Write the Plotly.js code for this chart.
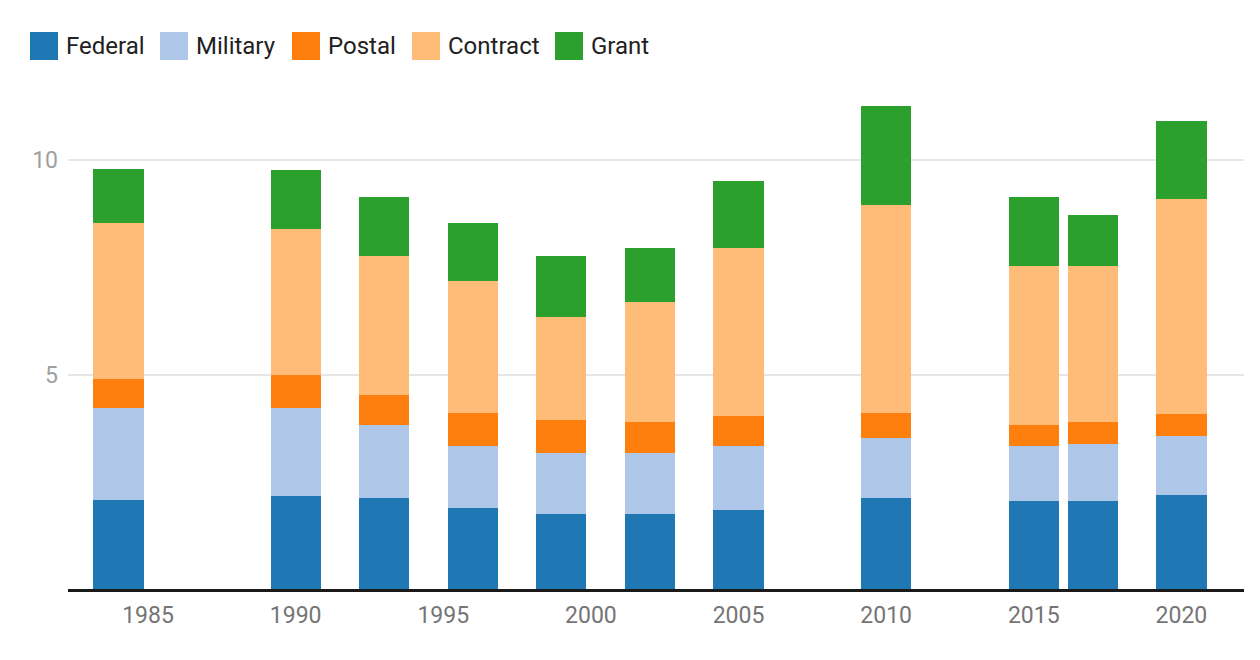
<!DOCTYPE html>
<html>
<head>
<meta charset="utf-8">
<script src="https://cdn.plot.ly/plotly-3.0.1.min.js"></script>
<style>
  html, body { margin: 0; padding: 0; background: #fff; }
  #chart { width: 1260px; height: 660px; }
</style>
</head>
<body>
<div id="chart"></div>
<script>
// ---- data ----
const years    = [1984, 1990, 1993, 1996, 1999, 2002, 2005, 2010, 2015, 2017, 2020];
const federal  = [2.07, 2.16, 2.13, 1.88, 1.76, 1.74, 1.83, 2.11, 2.04, 2.04, 2.20];
const military = [2.14, 2.05, 1.70, 1.46, 1.40, 1.42, 1.51, 1.40, 1.30, 1.35, 1.36];
const postal   = [0.68, 0.77, 0.70, 0.77, 0.79, 0.74, 0.70, 0.59, 0.49, 0.51, 0.51];
const contract = [3.65, 3.42, 3.24, 3.06, 2.40, 2.80, 3.90, 4.84, 3.71, 3.62, 5.03];
const grant    = [1.24, 1.36, 1.36, 1.35, 1.42, 1.24, 1.56, 2.33, 1.59, 1.19, 1.82];
const seriesNames = ['Federal', 'Military', 'Postal', 'Contract', 'Grant'];
const seriesValues = [federal, military, postal, contract, grant];
const xTickVals = [1985, 1990, 1995, 2000, 2005, 2010, 2015, 2020];
const yTickVals = [5, 10];

// ---- styles ----
const colors = ['#1f77b4', '#aec7e8', '#ff7f0e', '#ffbb78', '#2ca02c'];
const W = 1260, H = 660;
const M = { l: 68, r: 16, t: 88, b: 71 };
const PW = W - M.l - M.r, PH = H - M.t - M.b;
const px2x = p => (p - M.l) / PW;
const py2y = p => (H - M.b - p) / PH;

const traces = seriesNames.map((name, i) => ({
  type: 'bar',
  name: name,
  x: years,
  y: seriesValues[i],
  width: 1.7,
  marker: { color: colors[i], line: { width: 0 } },
  hoverinfo: 'x+y+name'
}));

// custom legend (large swatches)
const legendSwatchX = [30, 160, 292, 412, 555];
const swatch = 28, legendY = 46;
const shapes = [];
const annotations = [];
seriesNames.forEach((name, i) => {
  const x0 = legendSwatchX[i];
  shapes.push({
    type: 'rect', xref: 'paper', yref: 'paper',
    x0: px2x(x0), x1: px2x(x0 + swatch),
    y0: py2y(legendY + swatch / 2), y1: py2y(legendY - swatch / 2),
    fillcolor: colors[i], line: { width: 0 }, layer: 'above'
  });
  annotations.push({
    xref: 'paper', yref: 'paper',
    x: px2x(x0 + swatch + 6), y: py2y(legendY),
    xanchor: 'left', yanchor: 'middle',
    text: name, showarrow: false,
    font: { family: 'Roboto, sans-serif', size: 24, color: '#212121' }
  });
});

const layout = {
  width: W, height: H,
  margin: M,
  paper_bgcolor: '#ffffff',
  plot_bgcolor: '#ffffff',
  barmode: 'stack',
  showlegend: false,
  font: { family: 'Roboto, sans-serif' },
  xaxis: {
    range: [1982.29, 2022.12],
    tickvals: xTickVals,
    ticktext: xTickVals.map(String),
    showgrid: false,
    zeroline: false,
    showline: true,
    linecolor: '#1a1a1a',
    linewidth: 2.5,
    ticks: '',
    ticklen: 0,
    ticklabelstandoff: 4,
    tickfont: { family: 'Roboto, sans-serif', size: 23, color: '#757575' }
  },
  yaxis: {
    range: [0, PH / 42.9],
    tickvals: yTickVals,
    ticktext: yTickVals.map(String),
    showgrid: true,
    gridcolor: '#e6e6e6',
    gridwidth: 2,
    zeroline: false,
    showline: false,
    ticks: '',
    ticklabelstandoff: 9,
    tickfont: { family: 'Roboto, sans-serif', size: 23, color: '#a0a0a0' }
  },
  shapes: shapes,
  annotations: annotations
};

Plotly.newPlot('chart', traces, layout, { displayModeBar: false, staticPlot: true });
</script>
</body>
</html>
